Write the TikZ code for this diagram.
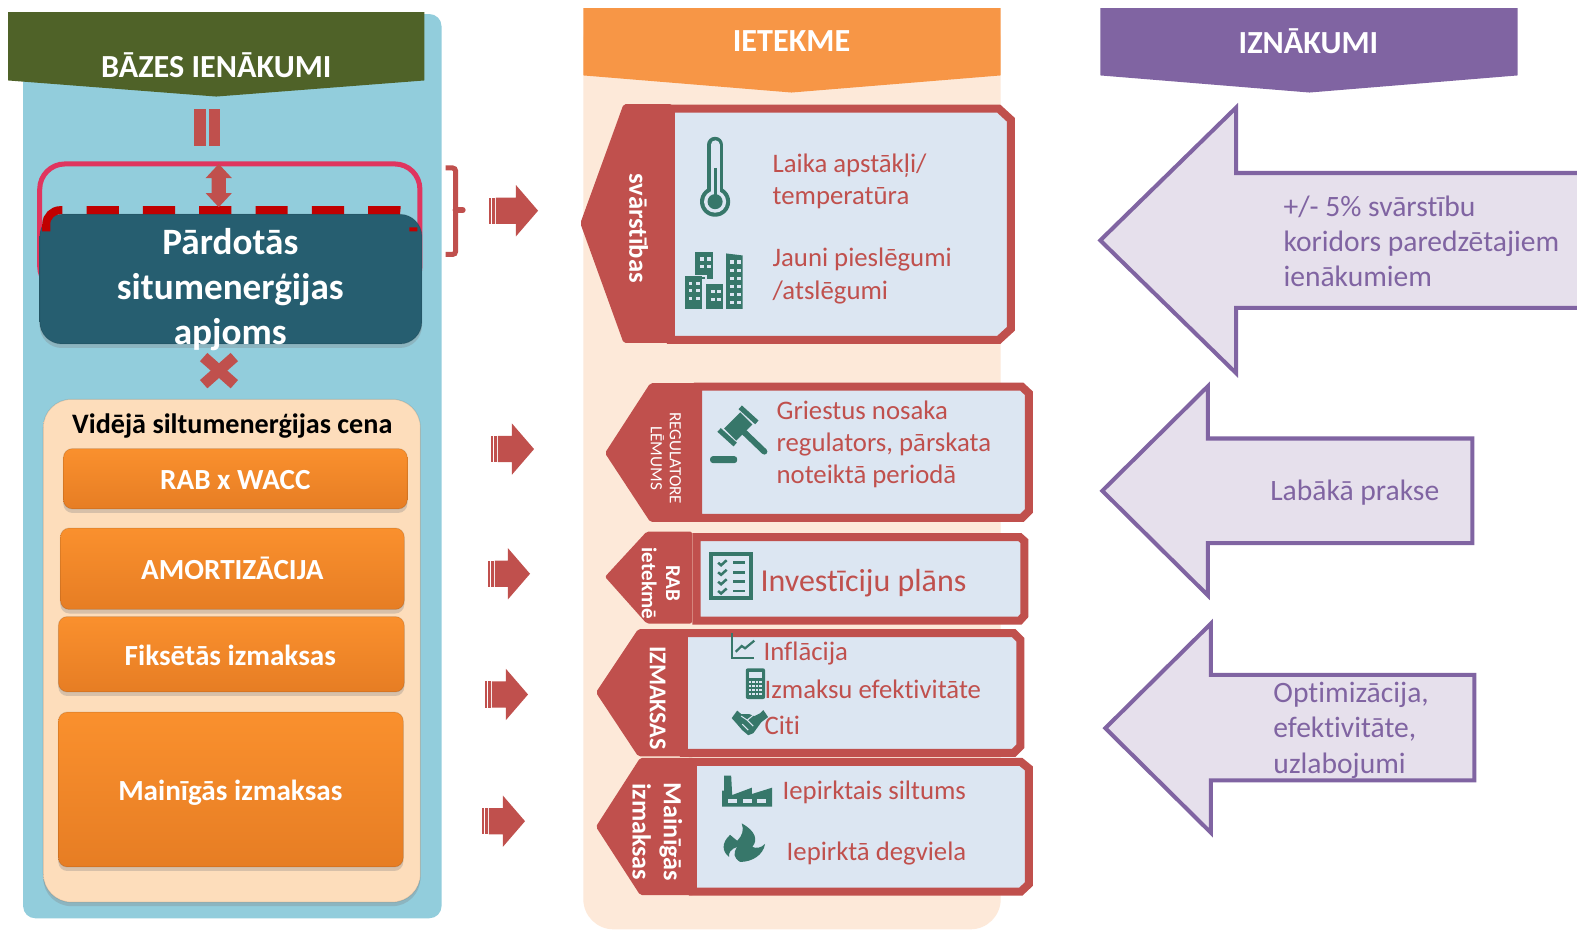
\documentclass[tikz,border=0pt]{standalone}
\usepackage{xcolor}
\usepackage{fontspec}
\setmainfont{Carlito}[Ligatures=NoCommon]
\usetikzlibrary{positioning, calc, shadows}

\definecolor{panelblue}{HTML}{92CDDC}
\definecolor{panelpeach}{HTML}{FDE9D9}
\definecolor{headgreen}{HTML}{4F6228}
\definecolor{headorange}{HTML}{F79646}
\definecolor{headpurple}{HTML}{8064A2}
\definecolor{brick}{HTML}{C0504D}
\definecolor{cardblue}{HTML}{DCE6F2}
\definecolor{icongreen}{HTML}{37776A}
\definecolor{arrowlilac}{HTML}{E6E0EC}
\definecolor{framepink}{HTML}{E0355F}
\definecolor{dashred}{HTML}{C00000}
\definecolor{tealtop}{HTML}{6FA6B8}
\definecolor{tealmain}{HTML}{265E70}
\definecolor{tealrim}{HTML}{1C4756}
\definecolor{orangetop}{HTML}{FFC75A}
\definecolor{orangemain}{HTML}{FF9530}
\definecolor{orangelow}{HTML}{DF7620}
\definecolor{orangerim}{HTML}{8A5222}
\definecolor{peachmain}{HTML}{FDDDBB}
\definecolor{peachtop}{HTML}{FFF6EA}
\definecolor{peachrim}{HTML}{A98D70}

\pgfdeclareverticalshading{tealbevel}{100bp}{color(0bp)=(tealrim); color(4bp)=(tealmain); color(93bp)=(tealmain); color(98bp)=(tealtop); color(100bp)=(tealtop)}
\pgfdeclareverticalshading{orangebevel}{100bp}{color(0bp)=(orangerim); color(6bp)=(orangelow); color(88bp)=(orangemain); color(95bp)=(orangetop); color(100bp)=(orangetop)}
\pgfdeclareverticalshading{peachbevel}{100bp}{color(0bp)=(peachrim); color(2.5bp)=(peachmain); color(95bp)=(peachmain); color(99bp)=(peachtop); color(100bp)=(peachtop)}

\begin{document}
\begin{tikzpicture}[
    x=1pt, y=-1pt,
    headtext/.style={font=\fontsize{32}{36}\selectfont\bfseries, text=white, inner sep=0pt},
    bevelbox/.style={rectangle, rounded corners=9pt, inner sep=0pt, draw=black, draw opacity=0.1, line width=1pt, drop shadow={shadow xshift=0pt, shadow yshift=-4pt, opacity=0.3}, shading=orangebevel},
    boxtext/.style={font=\fontsize{29}{33}\selectfont\bfseries, text=white, inner sep=0pt, align=center},
    tabshape/.style={fill=brick, rounded corners=2pt},
    cardshape/.style={fill=cardblue, draw=brick, line width=8pt, line join=miter},
    tabtext/.style={text=white, rotate=-90, align=center, inner sep=0pt},
    cardtext/.style={font=\fontsize{26.6}{32}\selectfont, text=brick, align=left, anchor=west, inner sep=0pt},
    outshape/.style={fill=arrowlilac, draw=headpurple, line width=4pt, line join=miter},
    outtext/.style={font=\fontsize{29.4}{35}\selectfont, text=headpurple, align=left, inner sep=0pt}
]
    \useasboundingbox (0,0) rectangle (1568,924);
    \clip (0,0) rectangle (1568,924);
    \fill[white] (0,0) rectangle (1568,924);

    % --- Column panels ---
    \fill[panelblue, rounded corners=12pt] (23,14) rectangle (439,913);
    \fill[panelpeach, rounded corners=30pt] (580,10) rectangle (995,924);

    % --- Column headers ---
    \fill[headgreen] (8,12) -- (422,12) -- (422,80) -- (215,96) -- (8,80) -- cycle;
    \fill[headorange] (580,8) -- (995,8) -- (995,75) -- (787,92) -- (580,75) -- cycle;
    \fill[headpurple] (1094,8) -- (1509,8) -- (1509,75) -- (1302,92) -- (1094,75) -- cycle;
    \node[headtext] (h_base) at (215,65) {BĀZES IENĀKUMI};
    \node[headtext] (h_impact) at (787,41) {IETEKME};
    \node[headtext] (h_result) at (1301,41) {IZNĀKUMI};

    % --- Equals sign ---
    \fill[brick] (193,108) rectangle (205,145);
    \fill[brick] (208,108) rectangle (219,145);

    % --- Sold volume ---
    \draw[framepink, line width=5pt, rounded corners=25pt] (39.5,163) rectangle (417.5,290);
    \node[bevelbox, shading=tealbevel, rounded corners=22pt, minimum width=380pt, minimum height=129pt] (volume) at (229.5,277.5) {};
    \draw[dashred, line width=8pt, dash pattern=on 31pt off 24pt on 32pt off 24pt on 32pt off 24pt on 32pt off 24pt on 32pt off 24pt on 32pt off 24pt on 32pt off 24pt on 32pt off 24pt on 10pt, rounded corners=14pt]
        (46,230) -- (46,209) -- (411,209) -- (411,230);
    \fill[brick] (217.5,163) -- (230.5,177) -- (224.5,177) -- (224.5,192) -- (230.5,192) -- (217.5,206) -- (204.5,192) -- (210.5,192) -- (210.5,177) -- (204.5,177) -- cycle;
    \node[boxtext, font=\fontsize{37}{45}\selectfont\bfseries] (volume_txt) at (229,288) {Pārdotās\\situmenerģijas\\apjoms};

    % --- Times sign ---
    \draw[brick, line width=11pt] (202.5,355) -- (233,382);
    \draw[brick, line width=11pt] (233,355) -- (202.5,382);

    % --- Average price ---
    \node[bevelbox, shading=peachbevel, rounded corners=28pt, minimum width=375pt, minimum height=500pt] (price) at (230.5,647) {};
    \node[font=\fontsize{28}{32}\selectfont\bfseries, inner sep=0pt] (price_txt) at (231,424) {Vidējā siltumenerģijas cena};
    \node[bevelbox, minimum width=342pt, minimum height=60pt] (rab) at (234,476) {};
    \node[bevelbox, minimum width=342pt, minimum height=81pt] (amort) at (231,565.5) {};
    \node[bevelbox, minimum width=344pt, minimum height=75pt] (fixed) at (230,650.5) {};
    \node[bevelbox, minimum width=343pt, minimum height=154pt] (variable) at (229.5,785) {};
    \node[boxtext] (rab_txt) at (234,477) {RAB x WACC};
    \node[boxtext] (amort_txt) at (231,565) {AMORTIZĀCIJA};
    \node[boxtext] (fixed_txt) at (229,652) {Fiksētās izmaksas};
    \node[boxtext] (variable_txt) at (229,788) {Mainīgās izmaksas};

    % --- Brace ---
    \draw[brick, line width=5pt, rounded corners=3pt] (443,167) -- (453,167) -- (453,253) -- (443,253);
    \draw[brick, line width=6pt, line cap=round] (453,209) -- (460,209);

    % --- Small block arrows ---
    \foreach \xa/\ya/\wa in {486/209.5/49, 488/446.5/43, 485/570.5/42, 482/690.5/43, 479/816.5/43} {
        \begin{scope}[shift={(\xa,\ya)}]
            \fill[brick] (0,-13) rectangle (2.5,13);
            \fill[brick] (3.5,-13) rectangle (6,13);
            \fill[brick] (7,-13) -- ({\wa-22},-13) -- ({\wa-22},-25.5) -- (\wa,0) -- ({\wa-22},25.5) -- ({\wa-22},13) -- (7,13) -- cycle;
        \end{scope}
    }

    % --- Impact rows ---
    % Fluctuations
    \fill[tabshape] (577,222) -- (620,103.5) -- (668,103.5) -- (668,341) -- (620,341) -- cycle;
    \draw[cardshape] (667,108) -- (993,108) -- (1005,119) -- (1005,327) -- (993,338) -- (667,338) -- cycle;
    \node[tabtext, font=\fontsize{26.5}{30}\selectfont\bfseries] (t_fluct) at (635,227) {svārstības};
    \node[cardtext] (c_weather) at (768,180) {Laika apstākļi/\\temperatūra};
    \node[cardtext] (c_connect) at (768,274.5) {Jauni pieslēgumi\\/atslēgumi};

    % Regulator
    \fill[tabshape] (601.5,450.5) -- (646.5,381) -- (694,381) -- (694,519) -- (646.5,519) -- cycle;
    \draw[cardshape] (694,384.5) -- (1016,384.5) -- (1023,391) -- (1023,508) -- (1016,515) -- (694,515) -- cycle;
    \node[tabtext, font=\fontsize{17}{19}\selectfont] (t_reg) at (662,455.5) {REGULATORE\\LĒMUMS};
    \node[cardtext] (c_ceiling) at (772,442) {Griestus nosaka\\regulators, pārskata\\noteiktā periodā};

    % RAB
    \fill[tabshape] (601.5,573.5) -- (643,528.5) -- (688,528.5) -- (688,620) -- (643,620) -- cycle;
    \draw[cardshape] (692.5,534) -- (1014,534) -- (1018.5,538) -- (1018.5,612) -- (1014,617) -- (692.5,617) -- cycle;
    \node[tabtext, font=\fontsize{21}{24}\selectfont\bfseries] (t_rab) at (657,580) {RAB\\ietekmē};
    \node[cardtext, font=\fontsize{31.8}{36}\selectfont] (c_invest) at (756,580) {Investīciju plāns};

    % Costs
    \fill[tabshape] (592.5,688.5) -- (634.5,625.5) -- (684,625.5) -- (684,752) -- (634.5,752) -- cycle;
    \draw[cardshape] (680,629.5) -- (1008,629.5) -- (1014.5,636) -- (1014.5,742) -- (1008,748.5) -- (680,748.5) -- cycle;
    \node[tabtext, font=\fontsize{24}{28}\selectfont\bfseries] (t_cost) at (654,694) {IZMAKSAS};
    \node[cardtext] (c_infl) at (759,650) {Inflācija};
    \node[cardtext] (c_effic) at (760,685) {Izmaksu efektivitāte};
    \node[cardtext] (c_other) at (760,721) {Citi};

    % Variable costs
    \fill[tabshape] (592.5,822) -- (636.5,753.5) -- (690,753.5) -- (690,890) -- (636.5,890) -- cycle;
    \draw[cardshape] (689,757.5) -- (1015,757.5) -- (1023,764) -- (1023,879) -- (1015,886.5) -- (689,886.5) -- cycle;
    \node[tabtext, font=\fontsize{26}{31}\selectfont\bfseries] (t_var) at (653.5,827) {Mainīgās\\izmaksas};
    \node[cardtext] (c_heat) at (778,787.5) {Iepirktais siltums};
    \node[cardtext] (c_fuel) at (782,849) {Iepirktā degviela};

    % --- Icons ---
    % Thermometer
    \draw[icongreen, line width=16pt, line cap=round] (711,144) -- (711,195);
    \fill[icongreen] (711,200.5) circle (15);
    \draw[cardblue, line width=9pt, line cap=round] (711,144) -- (711,195);
    \fill[cardblue] (711,200.5) circle (11);
    \fill[icongreen] (711,200.5) circle (7.5);
    \draw[icongreen, line width=3pt] (711,167) -- (711,200);

    % Buildings
    \fill[icongreen] (691,250.5) rectangle (708.5,277);
    \draw[cardblue, line width=2pt] (690,274) -- (702,274) -- (702,282);
    \fill[icongreen] (681,274.5) rectangle (698,307);
    \fill[icongreen] (702,282.5) rectangle (718.5,307);
    \fill[icongreen] (722,252) -- (738.5,254) -- (738.5,307) -- (722,307) -- cycle;
    \foreach \xa/\ya in {696/256, 703/256, 696/263, 703/263, 685/280, 692/280, 685/287, 692/287, 685/295, 692/295, 707/288, 713/288, 707/296, 713/296,
        726/259, 733/259, 726/267, 733/267, 726/275, 733/275, 726/283, 733/283, 726/291, 733/291, 726/299, 733/299}
        \fill[cardblue] (\xa,\ya) rectangle +(3.5,3.5);

    % Gavel
    \draw[icongreen, line width=17pt] (726,432) -- (742,416);
    \draw[icongreen, line width=5pt] (736,405) -- (752.5,420);
    \draw[icongreen, line width=5pt] (715,427.5) -- (731,442);
    \draw[icongreen, line width=6pt, line cap=round] (736,426) -- (760,449);
    \fill[icongreen, rounded corners=3pt] (706,453.5) rectangle (733,460.5);

    % Checklist
    \draw[icongreen, line width=4pt] (707,551) rectangle (747,595);
    \foreach \ya in {559.5, 569, 578.4, 587.6} {
        \draw[icongreen, line width=2.5pt] (714,\ya) -- (717,{\ya+2.5}) -- (722.5,{\ya-2.5});
        \draw[icongreen, line width=2.5pt] (729,\ya) -- (741,\ya);
    }

    % Chart
    \draw[icongreen, line width=1.8pt] (727.5,629.6) -- (727.5,654.3) -- (750,654.3);
    \draw[icongreen, line width=2.2pt] (731.5,648) -- (737.5,642.3) -- (740.8,644.6) -- (750,637);

    % Calculator
    \fill[icongreen, rounded corners=2pt] (741.5,664.5) rectangle (760.7,695);
    \fill[cardblue] (744.5,668) rectangle (757.7,674);
    \foreach \xa in {744.5, 748, 751.5, 755}
        \foreach \ya in {677, 681, 685, 689}
            \fill[cardblue] (\xa,\ya) rectangle +(2.2,2.5);

    % Handshake
    \fill[icongreen] (727.5,714) -- (733,706.5) -- (737,710) -- (745,710) -- (750,712) -- (756,709) -- (759,706) -- (763.7,713) -- (757,718) -- (749,729) -- (744,731) -- (738,726) -- (732,719) -- cycle;
    \draw[cardblue, line width=1pt] (737,712) -- (743,716) -- (749,711);
    \draw[cardblue, line width=1pt] (743,716) -- (749,722);
    \draw[cardblue, line width=1pt] (738,720) -- (744,726);

    % Factory
    \fill[icongreen] (718,802) -- (718,786.2) -- (720,786.2) -- (720,771.3) -- (727,771.3) -- (728,790.5) -- (747.5,783.2) -- (747.5,789.5) -- (767.6,783.2) -- (767.6,802) -- cycle;
    \foreach \xa in {724.2, 739.2, 753}
        \fill[cardblue] (\xa,794.8) rectangle +(8.3,4);

    % Flame
    \fill[icongreen] (737.5,818.7) .. controls (751,826) and (754,835) .. (748,842) .. controls (752,844) and (757,843) .. (760.7,839) .. controls (759,850) and (748,857) .. (736,857) .. controls (729,853) and (729,848) .. (733,842) .. controls (727,844) and (724,848) .. (725,852) .. controls (718,847) and (717,838) .. (726,830) .. controls (729,833) and (731,834) .. (733,836) .. controls (738,831) and (740,825) .. (737.5,818.7) -- cycle;

    % --- Result arrows ---
    \draw[outshape] (1094,239) -- (1229,107) -- (1229,172) -- (1590,172) -- (1590,306) -- (1229,306) -- (1229,371) -- cycle;
    \node[outtext, anchor=west] (r_band) at (1276,240) {+/- 5\% svārstību\\koridors paredzētajiem\\ienākumiem};

    \draw[outshape] (1096,488) -- (1201,384) -- (1201,436) -- (1464,436) -- (1464,540) -- (1201,540) -- (1201,592) -- cycle;
    \node[outtext] (r_best) at (1347,490) {Labākā prakse};

    \draw[outshape] (1099,724) -- (1204,620) -- (1204,671) -- (1466,671) -- (1466,776) -- (1204,776) -- (1204,828) -- cycle;
    \node[outtext, anchor=west] (r_optim) at (1266,726) {Optimizācija,\\efektivitāte,\\uzlabojumi};

\end{tikzpicture}
\end{document}
